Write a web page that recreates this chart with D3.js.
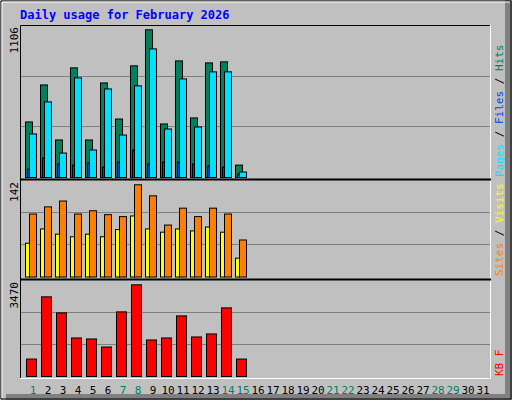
<!DOCTYPE html><html><head><script src="https://cdn.jsdelivr.net/npm/d3@7"></script>
<style>body{margin:0;background:#fff}</style></head><body><svg id="c" width="512" height="400"></svg>
<script>
const days = d3.range(1,32);
const weekend = [1,7,8,14,15,21,22,28,29];
const hits  = [416,693,281,821,281,708,438,836,1106,401,873,446,858,866,93];
const files = [326,566,183,746,206,663,318,686,963,363,738,378,791,791,41];
const pages = [63,146,101,93,108,78,116,206,101,116,116,101,86,78,26];
const visits= [97,108,117,97,102,96,93,142,125,80,106,93,106,97,57];
const sites = [52,74,66,62,66,62,73,94,74,69,74,71,77,69,29];
const kb    = [660,3014,2407,1458,1420,1116,2445,3470,1382,1458,2293,1496,1610,2596,660];
const font="'DejaVu Sans Mono',monospace";
const svg=d3.select("#c");
// frame
svg.append("rect").attr("x",0).attr("y",0).attr("width",512).attr("height",400).attr("fill","#c0c0c0");
svg.append("path").attr("d","M505,6V394H6V400H512V0H505Z").attr("fill","#808080");
svg.append("path").attr("d","M1,1H511V399H1Z").attr("fill","none").attr("stroke","#000").attr("stroke-width",1);
svg.append("path").attr("d","M2,398V2H510").attr("fill","none").attr("stroke","#fff").attr("stroke-width",1);
svg.append("text").attr("x",20).attr("y",19).attr("font-family",font).attr("font-weight","bold").attr("font-size",12).attr("fill","#0000ff").text("Daily usage for February 2026");
// x scale
const x=d3.scaleLinear().domain([1,32]).range([25,490]);
const panels=[{top:25,base:177,maxY:29.3,max:1106},{top:180,base:276.5,maxY:184.3,max:142},{top:280,base:376,maxY:284.3,max:3470}];
panels.forEach(p=>{
  svg.append("rect").attr("x",20).attr("y",p.top).attr("width",470).attr("height",p.base+2-p.top).attr("fill","#c0c0c0");
  const h=p.base-p.top;
  [1,2].forEach(k=>svg.append("line").attr("x1",21).attr("x2",490).attr("y1",Math.round(p.base-h*k/3)+0.5).attr("y2",Math.round(p.base-h*k/3)+0.5).attr("stroke","#808080"));
  p.y=d3.scaleLinear().domain([0,p.max]).range([p.base,p.maxY]);
});
// borders
svg.append("path").attr("d","M20.5,378V25.5H490.5").attr("fill","none").attr("stroke","#000");
svg.append("path").attr("d","M490.5,25V378.5H20").attr("fill","none").attr("stroke","#fff");
[179.5,279.5].forEach(yy=>svg.append("line").attr("x1",20).attr("x2",491).attr("y1",yy).attr("y2",yy).attr("stroke","#000").attr("stroke-width",2));
function bars(data,p,dx,w,col){
  svg.append("g").selectAll("rect").data(data).join("rect")
   .attr("x",(d,i)=>x(i+1)+dx+0.5).attr("width",w).attr("y",d=>p.y(d)+0.5).attr("height",d=>p.base-p.y(d))
   .attr("fill",col).attr("stroke","#000");
}
bars(hits,panels[0],0,7,"#00805c");
bars(files,panels[0],4,7,"#00e0ff");
bars(pages,panels[0],2,2,"#0040ff");
bars(sites,panels[1],0,4,"#ffff00");
bars(visits,panels[1],4,7,"#ff8000");
bars(kb,panels[2],1,10,"#ff0000");
// max labels
panels.forEach(p=>svg.append("text").attr("transform",`translate(18,${p.top+2}) rotate(-90)`).attr("text-anchor","end")
  .attr("font-family",font).attr("font-size",11).attr("fill","#000").text(p.max));
// right legends
function legend(y,parts){
  const t=svg.append("text").attr("transform",`translate(503,${y}) rotate(-90)`).attr("font-family",font).attr("font-size",11);
  parts.forEach(([s,c])=>t.append("tspan").attr("fill",c).text(s));
}
legend(177,[["Pages","#00e0ff"],[" / ","#000"],["Files","#0040ff"],[" / ","#000"],["Hits","#00805c"]]);
legend(276,[["Sites","#ff8000"],[" / ","#000"],["Visits","#ffff00"]]);
legend(376,[["KB F","#ff0000"]]);
// day labels
svg.append("g").selectAll("text").data(days).join("text").attr("x",d=>x(d)+8).attr("y",394).attr("text-anchor","middle")
 .attr("font-family",font).attr("font-size",11).attr("fill",d=>weekend.includes(d)?"#00805c":"#000").text(d=>d);
</script></body></html>
